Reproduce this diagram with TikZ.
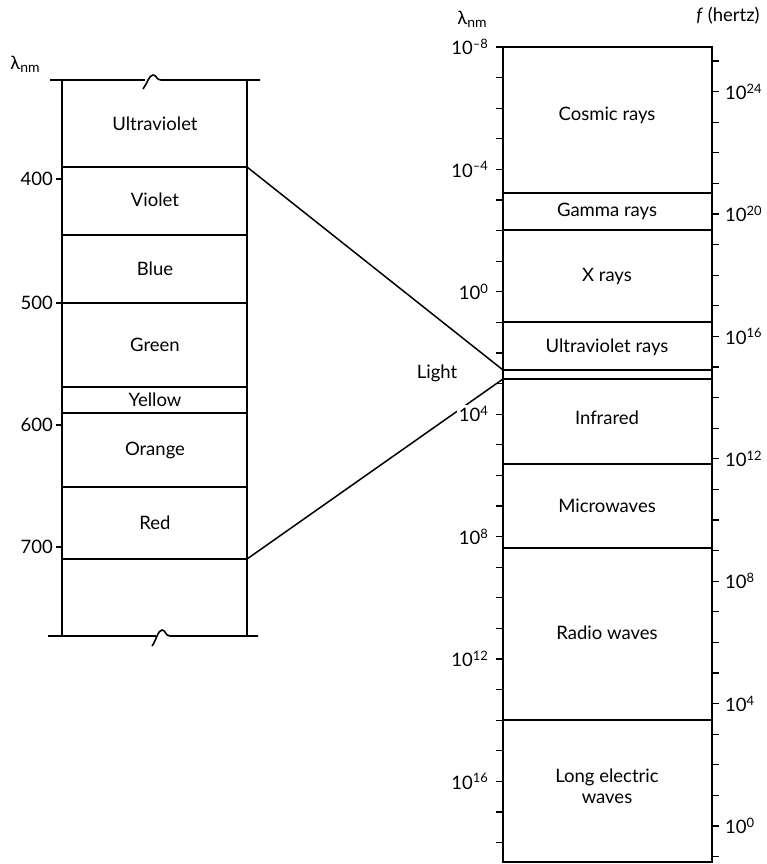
\documentclass[tikz,border=0pt]{standalone}
\usepackage{fontspec}
\setmainfont{Lato}
\usetikzlibrary{positioning}

\newcommand{\lnm}{λ\raisebox{-0.35ex}{\fontsize{14}{16}\selectfont nm}}
\newcommand{\pten}[1]{10\textsuperscript{#1}}

\begin{document}
\begin{tikzpicture}[
  x=1pt, y=-1pt,
  line cap=butt,
  every node/.style={font=\fontsize{18.5}{21}\selectfont},
  band/.style={align=center},
  ticklbl/.style={fill=white, inner sep=1.5pt},
  edge/.style={line width=1.6pt},
  divider/.style={line width=1.5pt},
  tickmark/.style={line width=1.2pt},
  link/.style={line width=1.5pt}
]
\useasboundingbox (0,0) rectangle (766,864);

%========== left: visible spectrum ==========
\def\xl{62}\def\xr{247}
\draw[edge] (\xl,80) -- (\xl,636);
\draw[edge] (\xr,80) -- (\xr,636);
% broken top and bottom edges
\draw[edge] (50,80) -- (145,80);
\draw[edge] (143,89) .. controls (147,84) and (149,75) .. (153,75) .. controls (157,75) and (156,80) .. (161,80) -- (260,80);
\draw[edge] (48,636) -- (156,636);
\draw[edge] (152,646) .. controls (156,641) and (158,630) .. (162,630) .. controls (166,630) and (165,636) .. (170,636) -- (258,636);
% colour bands
\foreach \yy in {167,235,303,387,413,487,559}{\draw[divider] (\xl,\yy) -- (\xr,\yy);}
\node[band] (ultraviolet) at (155,124) {Ultraviolet};
\node[band] (violet) at (155,200) {Violet};
\node[band] (blue) at (155,269) {Blue};
\node[band] (green) at (155,345) {Green};
\node[band] (yellow) at (155,400) {Yellow};
\node[band] (orange) at (155,450) {Orange};
\node[band] (red) at (155,523) {Red};
% nm scale
\foreach \yy/\tt in {179/400, 303/500, 425/600, 547/700}{
  \draw[tickmark] (56,\yy) -- (\xl,\yy);
  \node[anchor=east, inner sep=1pt] at (54,\yy) {\tt};}
\node (lnmleft) at (25,64) {\lnm};

%========== right: full spectrum ==========
\def\xL{503}\def\xR{712}
\draw[edge] (\xL,47) rectangle (\xR,862);
\foreach \yy in {193,230,322,370,379,464,548,720}{\draw[divider] (\xL,\yy) -- (\xR,\yy);}
\node[band] (cosmic) at (607,115) {Cosmic rays};
\node[band] (gamma) at (607,211) {Gamma rays};
\node[band] (xrays) at (607,276) {X rays};
\node[band] (uvrays) at (607,347) {Ultraviolet rays};
\node[band] (infrared) at (607,418) {Infrared};
\node[band] (micro) at (607,506) {Microwaves};
\node[band] (radio) at (607,633) {Radio waves};
\node[band] (longwaves) at (607,786) {Long electric\\waves};

% links from the visible band
\coordinate (visTop) at (\xr,167);
\coordinate (visBot) at (\xr,559);
\coordinate (lightTop) at (\xL,370);
\coordinate (lightBot) at (\xL,379);
\draw[link] (visTop) -- (lightTop);
\draw[link] (visBot) -- (lightBot);
\node (light) at (437,373) {Light};

% wavelength ticks (left side)
\foreach \k in {0,...,26}{\draw[tickmark] (\xL-7,47+30.6*\k) -- (\xL,47+30.6*\k);}
\foreach \k/\tt in {0/\textendash8, 4/\textendash4, 8/0, 12/4, 16/8, 20/12, 24/16}{
  \node[ticklbl, anchor=east] at (\xL-13,47+30.6*\k) {\pten{\tt}};}
% frequency ticks (right side)
\foreach \k in {0,...,26}{\draw[tickmark] (\xR,61+30.6*\k) -- (\xR+7,61+30.6*\k);}
\foreach \k/\tt in {1/24, 5/20, 9/16, 13/12, 17/8, 21/4, 25/0}{
  \node[anchor=west, inner sep=1pt] at (\xR+12,61+30.6*\k) {\pten{\tt}};}

\node (lnmright) at (472,19) {\lnm};
\node (hertz) at (728,16) {\textit{f} (hertz)};
\end{tikzpicture}
\end{document}
